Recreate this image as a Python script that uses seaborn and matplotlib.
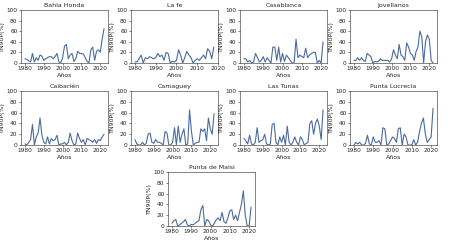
import seaborn as sns
import matplotlib
matplotlib.use("Agg")
import matplotlib.pyplot as plt

YEARS = list(range(1980, 2024))

bahia_honda = [8, 7, 4, 2, 18, 2, 10, 5, 15, 13, 5, 8, 10, 12, 12, 8, 12, 18, 2, 0, 10,
               32, 35, 8, 15, 18, 3, 8, 22, 18, 18, 17, 10, 3, 0, 25, 30, 5, 22, 25, 20, 45, 65]
la_fe = [2, 2, 8, 15, 0, 10, 8, 12, 10, 8, 10, 18, 12, 15, 5, 20, 18, 0, 3, 2, 5,
         25, 15, 0, 10, 22, 15, 10, 0, 5, 8, 5, 10, 15, 8, 27, 22, 8, 30]
casablanca = [8, 8, 2, 5, 0, 2, 18, 10, 2, 5, 12, 2, 10, 5, 0, 30, 30, 5, 30, 2, 18,
              3, 15, 10, 5, 0, 0, 45, 10, 15, 12, 10, 28, 10, 15, 18, 20, 20, 0, 5, 0, 40]
jovellanos = [5, 5, 10, 5, 10, 5, 3, 18, 15, 12, 0, 3, 2, 3, 8, 5, 5, 5, 5, 2, 8,
              25, 15, 8, 35, 15, 12, 5, 38, 30, 18, 15, 5, 22, 30, 60, 50, 0, 40, 53, 45, 5, 0]
caibarien = [2, 0, 5, 10, 38, 0, 15, 22, 50, 18, 5, 2, 15, 2, 12, 8, 10, 18, 0, 2, 2,
             5, 0, 5, 22, 8, 0, 2, 22, 12, 5, 10, 0, 12, 10, 8, 5, 10, 3, 10, 8, 15, 20]
camaguey = [10, 2, 0, 0, 5, 0, 3, 20, 22, 5, 3, 10, 5, 5, 3, 0, 25, 22, 0, 0, 5,
            32, 0, 35, 5, 20, 30, 0, 2, 65, 25, 0, 3, 5, 5, 30, 25, 30, 8, 50, 30, 20, 58]
las_tunas = [12, 8, 2, 18, 2, 0, 5, 32, 5, 8, 10, 20, 2, 0, 2, 38, 40, 5, 0, 15, 5,
             18, 0, 35, 5, 0, 5, 15, 5, 0, 15, 10, 0, 3, 5, 40, 45, 20, 40, 48, 35, 10, 65]
punta_lucrecia = [0, 5, 2, 5, 0, 0, 3, 18, 2, 0, 15, 5, 5, 8, 0, 32, 30, 0, 2, 8, 15,
                  12, 5, 30, 32, 0, 20, 15, 0, 0, 0, 10, 0, 5, 25, 40, 50, 20, 5, 10, 15, 68]
punta_maisi = [5, 10, 12, 0, 2, 5, 8, 12, 2, 0, 3, 2, 5, 8, 10, 30, 38, 0, 12, 10, 2,
               0, 5, 12, 15, 10, 25, 8, 5, 15, 28, 30, 12, 20, 10, 25, 40, 65, 20, 0, 0, 35]

STATIONS = ["Bahia Honda", "La fe", "Casablanca", "Jovellanos",
            "Caibarién", "Camaguey", "Las Tunas", "Punta Lucrecia", "Punta de Maisi"]
SERIES = [bahia_honda, la_fe, casablanca, jovellanos, caibarien,
          camaguey, las_tunas, punta_lucrecia, punta_maisi]

sns.set_theme(style="ticks")
plt.rcParams["font.family"] = ["DejaVu Sans"]

W, H = 450, 245
fig = plt.figure(figsize=(W / 100, H / 100), dpi=100)

# axes boxes in pixels: left, top, width, height
lefts = [21, 131, 240, 350]
boxes = [(l, 10, 87, 53) for l in lefts] + [(l, 91, 87, 54) for l in lefts] + [(168, 172, 87, 54)]

for (l, t, w, h), name, vals in zip(boxes, STATIONS, SERIES):
    ax = fig.add_axes([l / W, 1 - (t + h) / H, w / W, h / H])
    sns.lineplot(x=YEARS[:len(vals)], y=vals, ax=ax, color="#4a6b9e", linewidth=0.8)
    ax.set_ylim(0, 100)
    ax.set_yticks([0, 20, 40, 60, 80, 100])
    ax.set_xticks([1980, 1990, 2000, 2010, 2020])
    ax.tick_params(labelsize=4.2, length=1.5, width=0.4, pad=1)
    for s in ax.spines.values():
        s.set_linewidth(0.4)
    ax.set_title(name, fontsize=4.5, pad=2)
    ax.set_xlabel("Años", fontsize=4.5, labelpad=1)
    ax.set_ylabel("TN90P(%)", fontsize=4.5, labelpad=1)

fig.savefig("out.png", dpi=100)
